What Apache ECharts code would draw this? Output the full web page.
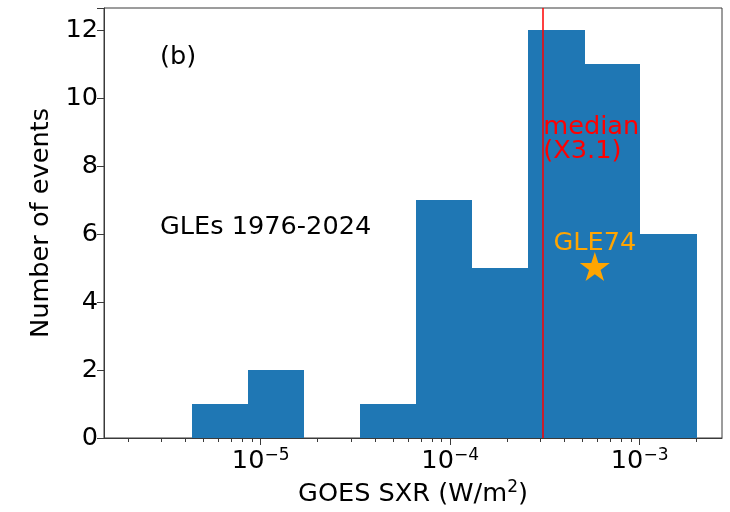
<!DOCTYPE html>
<html>
<head>
<meta charset="utf-8">
<script src="https://cdn.jsdelivr.net/npm/echarts@6/dist/echarts.min.js"></script>
<style>
  html, body { margin: 0; padding: 0; background: #fff; }
  #chart { width: 730px; height: 512px; }
</style>
</head>
<body>
<div id="chart"></div>
<script>
// Histogram of GLE peak soft X-ray flux, logarithmic bins (W/m^2)
const binEdges = [4.33e-6, 8.55e-6, 1.69e-5, 3.35e-5, 6.62e-5, 1.31e-4, 2.59e-4, 5.13e-4, 1.01e-3, 2.0e-3];
const binCounts = [1, 2, 0, 1, 7, 5, 12, 11, 6];

// Median flare class and the GLE74 marker
const medianFlux = 3.1e-4;
const medianText = ['median', '(X3.1)'];
const gleFlux = [5.8e-4];
const gleCount = [5];
const gleName = ['GLE74'];

// Axis extents and tick values
const xLimits = [1.49e-6, 2.72e-3];
const yLimits = [0, 12.65];
const yTickStep = 2;
const xMajorTicks = [1e-5, 1e-4, 1e-3];
const xMinorFactors = [2, 3, 4, 5, 6, 7, 8, 9];
const xMinorDecades = [1e-6, 1e-5, 1e-4, 1e-3];

const FONT = 'DejaVu Sans';
const FS = 25.6;
const BAR = '#1f77b4';
const AX = '#3a3a3a';
const ORANGE = '#ffa500';

const lg = v => Math.log10(v);
const xMin = lg(xLimits[0]), xMax = lg(xLimits[1]);

const minorTicks = [];
xMinorDecades.forEach(d => xMinorFactors.forEach(f => {
  const v = lg(f * d);
  if (v > xMin && v < xMax) minorTicks.push(v);
}));

const barData = binCounts.map((c, i) => [lg(binEdges[i]), lg(binEdges[i + 1]), c]);

// five-pointed star, matplotlib proportions
function starPath() {
  const R = 50, r = R * 0.381966, pts = [];
  for (let k = 0; k < 10; k++) {
    const rad = k % 2 === 0 ? R : r;
    const a = -Math.PI / 2 + k * Math.PI / 5;
    pts.push((50 + rad * Math.cos(a)).toFixed(2) + ' ' + (50 + rad * Math.sin(a)).toFixed(2));
  }
  return 'path://M' + pts.join(' L') + ' Z';
}

const superscript = v => '{b|10}{s|\u2212' + Math.round(-v) + '}';

const chart = echarts.init(document.getElementById('chart'), null, { renderer: 'canvas' });

const baseX = {
  type: 'value',
  min: xMin,
  max: xMax,
  splitLine: { show: false }
};

chart.setOption({
  animation: false,
  backgroundColor: '#fff',
  textStyle: { fontFamily: FONT },
  grid: { left: 104, top: 8, width: 618, height: 430, show: true, borderColor: AX, borderWidth: 1, backgroundColor: 'transparent' },
  xAxis: [
    Object.assign({}, baseX, {
      name: '{a|GOES SXR (W/m}{s|2}{a|)}',
      nameLocation: 'middle',
      nameGap: 40,
      nameTextStyle: {
        rich: {
          a: { fontFamily: FONT, fontSize: FS, color: '#000' },
          s: { fontFamily: FONT, fontSize: 17, color: '#000', padding: [0, 0, 12, 0] }
        }
      },
      axisLine: { show: true, lineStyle: { color: AX, width: 1 } },
      axisTick: { show: true, inside: false, length: 7, customValues: xMajorTicks.map(lg), lineStyle: { color: AX, width: 1 } },
      axisLabel: {
        show: true,
        margin: 9,
        customValues: xMajorTicks.map(lg),
        formatter: v => superscript(v),
        rich: {
          b: { fontFamily: FONT, fontSize: FS, color: '#000' },
          s: { fontFamily: FONT, fontSize: 17, color: '#000', padding: [0, 0, 12, 0] }
        }
      }
    }),
    Object.assign({}, baseX, {
      position: 'bottom',
      axisLine: { show: false },
      axisTick: { show: true, inside: false, length: 4, customValues: minorTicks, lineStyle: { color: AX, width: 1 } },
      axisLabel: { show: false }
    })
  ],
  yAxis: {
    type: 'value',
    min: yLimits[0],
    max: yLimits[1],
    interval: yTickStep,
    name: 'Number of events',
    nameLocation: 'middle',
    nameGap: 50,
    nameTextStyle: { fontFamily: FONT, fontSize: FS, color: '#000' },
    axisLine: { show: true, lineStyle: { color: AX, width: 1 } },
    axisTick: { show: true, inside: false, length: 7, lineStyle: { color: AX, width: 1 } },
    axisLabel: { fontFamily: FONT, fontSize: FS, color: '#000', margin: 6, showMaxLabel: true,
      formatter: v => (v % yTickStep === 0 ? String(v) : '') },
    splitLine: { show: false }
  },
  series: [
    {
      type: 'custom',
      xAxisIndex: 0,
      data: barData,
      renderItem: (params, api) => {
        // snap to whole pixels so neighbouring bins join without a seam
        const p0 = api.coord([api.value(0), 0]);
        const p1 = api.coord([api.value(1), api.value(2)]);
        const x0 = Math.round(p0[0]), x1 = Math.round(p1[0]);
        const yTop = Math.round(p1[1]), yBot = Math.round(p0[1]);
        return {
          type: 'rect',
          shape: { x: x0, y: yTop, width: x1 - x0, height: yBot - yTop },
          style: { fill: BAR, stroke: null }
        };
      },
      z: 2
    },
    {
      type: 'line',
      xAxisIndex: 0,
      data: [],
      markLine: {
        silent: true,
        symbol: ['none', 'none'],
        label: { show: false },
        lineStyle: { color: '#ff0000', width: 1.5, type: 'solid' },
        data: [{ xAxis: lg(medianFlux) }]
      },
      z: 3
    },
    {
      type: 'custom',
      xAxisIndex: 0,
      data: [[lg(medianFlux), 9]],
      renderItem: (params, api) => {
        const p = api.coord([api.value(0), api.value(1)]);
        return {
          type: 'text',
          x: p[0],
          y: p[1] + 7,
          style: {
            text: medianText.join('\n'),
            fill: '#ff0000',
            font: FS + 'px "' + FONT + '"',
            lineHeight: 24,
            align: 'left',
            verticalAlign: 'middle'
          }
        };
      },
      z: 4
    },
    {
      type: 'scatter',
      xAxisIndex: 0,
      data: gleFlux.map((f, i) => [lg(f), gleCount[i], gleName[i]]),
      symbol: starPath(),
      symbolSize: [30, 29],
      // the star's outline sits slightly above its centre point
      symbolOffset: [0, -1.5],
      itemStyle: { color: ORANGE, opacity: 1 },
      label: {
        show: true,
        position: 'top',
        distance: 0,
        offset: [0, 4],
        formatter: p => p.data[2],
        color: ORANGE,
        opacity: 1,
        fontFamily: FONT,
        fontSize: FS
      },
      z: 5
    }
  ],
  graphic: [
    { type: 'text', left: 160, top: 44, style: { text: '(b)', font: FS + 'px "' + FONT + '"', fill: '#000' } },
    { type: 'text', left: 160, top: 214, style: { text: 'GLEs 1976-2024', font: FS + 'px "' + FONT + '"', fill: '#000' } }
  ]
});
</script>
</body>
</html>
